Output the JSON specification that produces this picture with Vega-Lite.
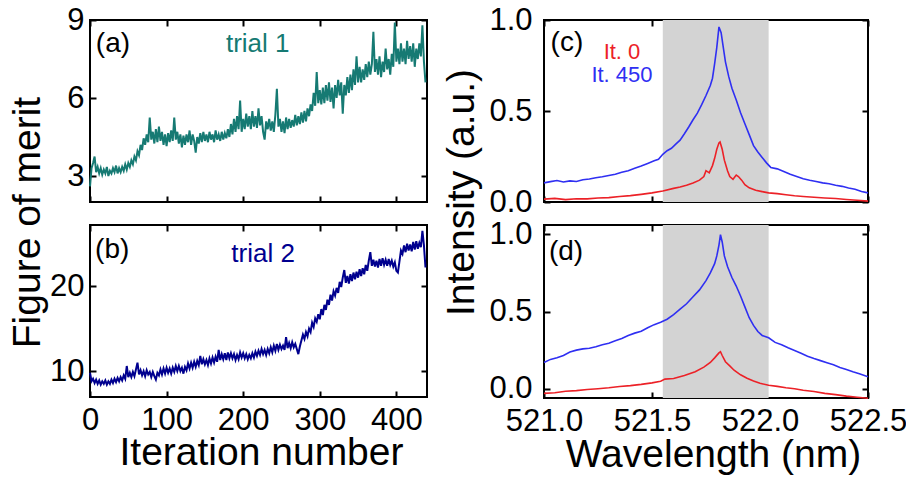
{
  "$schema": "https://vega.github.io/schema/vega-lite/v6.json",
  "padding": {"left": 7, "top": 3, "right": 0, "bottom": 0},
  "background": "white",
  "bounds": "flush",
  "columns": 2,
  "spacing": {"row": 23, "column": 117},
  "datasets": {
    "trial1": [
      {"it":0,"fom":2.6},{"it":2,"fom":3.3},{"it":4,"fom":3.5},{"it":6,"fom":3.75},{"it":8,"fom":3.15},{"it":10,"fom":3.35},{"it":12,"fom":3.1},{"it":14,"fom":3.3},{"it":16,"fom":3.05},{"it":18,"fom":3.25},
      {"it":20,"fom":3.1},{"it":22,"fom":3.35},{"it":24,"fom":3.0},{"it":26,"fom":3.2},{"it":28,"fom":3.1},{"it":30,"fom":3.3},{"it":32,"fom":3.15},{"it":34,"fom":3.4},{"it":36,"fom":3.1},{"it":38,"fom":3.3},
      {"it":40,"fom":3.15},{"it":42,"fom":3.35},{"it":44,"fom":3.2},{"it":46,"fom":3.45},{"it":48,"fom":3.25},{"it":50,"fom":3.5},{"it":52,"fom":3.35},{"it":54,"fom":3.6},{"it":56,"fom":3.45},{"it":58,"fom":3.75},
      {"it":60,"fom":3.6},{"it":62,"fom":3.95},{"it":64,"fom":3.8},{"it":66,"fom":4.2},{"it":68,"fom":4.0},{"it":70,"fom":4.45},{"it":72,"fom":4.2},{"it":74,"fom":4.6},{"it":76,"fom":4.3},{"it":78,"fom":5.25},
      {"it":80,"fom":4.4},{"it":82,"fom":4.7},{"it":84,"fom":4.25},{"it":86,"fom":4.8},{"it":88,"fom":4.3},{"it":90,"fom":4.9},{"it":92,"fom":4.35},{"it":94,"fom":4.7},{"it":96,"fom":4.2},{"it":98,"fom":4.6},
      {"it":100,"fom":4.15},{"it":102,"fom":4.65},{"it":104,"fom":4.3},{"it":106,"fom":4.75},{"it":108,"fom":4.35},{"it":110,"fom":5.25},{"it":112,"fom":4.4},{"it":114,"fom":4.7},{"it":116,"fom":4.25},{"it":118,"fom":4.6},
      {"it":120,"fom":4.1},{"it":122,"fom":4.55},{"it":124,"fom":4.2},{"it":126,"fom":4.6},{"it":128,"fom":4.3},{"it":130,"fom":4.75},{"it":132,"fom":4.2},{"it":134,"fom":4.6},{"it":136,"fom":4.35},{"it":138,"fom":3.9},
      {"it":140,"fom":4.5},{"it":142,"fom":4.25},{"it":144,"fom":4.65},{"it":146,"fom":4.3},{"it":148,"fom":4.7},{"it":150,"fom":4.35},{"it":152,"fom":4.6},{"it":154,"fom":4.3},{"it":156,"fom":4.7},{"it":158,"fom":4.4},
      {"it":160,"fom":4.6},{"it":162,"fom":4.3},{"it":164,"fom":4.75},{"it":166,"fom":4.4},{"it":168,"fom":4.6},{"it":170,"fom":4.35},{"it":172,"fom":4.7},{"it":174,"fom":4.4},{"it":176,"fom":4.65},{"it":178,"fom":4.45},
      {"it":180,"fom":4.8},{"it":182,"fom":4.5},{"it":184,"fom":5.0},{"it":186,"fom":4.6},{"it":188,"fom":5.2},{"it":190,"fom":4.7},{"it":192,"fom":5.3},{"it":194,"fom":4.8},{"it":196,"fom":5.9},{"it":198,"fom":4.7},
      {"it":200,"fom":5.2},{"it":202,"fom":4.8},{"it":204,"fom":5.4},{"it":206,"fom":4.9},{"it":208,"fom":5.3},{"it":210,"fom":4.8},{"it":212,"fom":5.5},{"it":214,"fom":4.9},{"it":216,"fom":5.3},{"it":218,"fom":4.85},
      {"it":220,"fom":5.6},{"it":222,"fom":4.95},{"it":224,"fom":5.3},{"it":226,"fom":4.7},{"it":228,"fom":4.4},{"it":230,"fom":5.1},{"it":232,"fom":4.8},{"it":234,"fom":5.2},{"it":236,"fom":4.75},{"it":238,"fom":5.1},
      {"it":240,"fom":4.7},{"it":242,"fom":5.35},{"it":244,"fom":6.35},{"it":246,"fom":4.9},{"it":248,"fom":5.2},{"it":250,"fom":4.7},{"it":252,"fom":5.1},{"it":254,"fom":4.65},{"it":256,"fom":5.25},{"it":258,"fom":4.8},
      {"it":260,"fom":5.2},{"it":262,"fom":4.85},{"it":264,"fom":5.15},{"it":266,"fom":4.9},{"it":268,"fom":5.35},{"it":270,"fom":4.95},{"it":272,"fom":5.3},{"it":274,"fom":5.0},{"it":276,"fom":5.45},{"it":278,"fom":5.05},
      {"it":280,"fom":5.5},{"it":282,"fom":5.1},{"it":284,"fom":5.6},{"it":286,"fom":5.3},{"it":288,"fom":5.75},{"it":290,"fom":5.5},{"it":292,"fom":6.2},{"it":294,"fom":5.7},{"it":296,"fom":7.0},{"it":298,"fom":5.8},
      {"it":300,"fom":6.3},{"it":302,"fom":5.75},{"it":304,"fom":6.4},{"it":306,"fom":5.8},{"it":308,"fom":6.5},{"it":310,"fom":5.9},{"it":312,"fom":6.6},{"it":314,"fom":5.85},{"it":316,"fom":6.4},{"it":318,"fom":5.6},
      {"it":320,"fom":6.5},{"it":322,"fom":6.0},{"it":324,"fom":6.7},{"it":326,"fom":6.1},{"it":328,"fom":6.6},{"it":330,"fom":5.4},{"it":332,"fom":6.5},{"it":334,"fom":6.1},{"it":336,"fom":6.8},{"it":338,"fom":6.2},
      {"it":340,"fom":6.9},{"it":342,"fom":6.3},{"it":344,"fom":7.1},{"it":346,"fom":6.5},{"it":348,"fom":7.6},{"it":350,"fom":6.6},{"it":352,"fom":7.2},{"it":354,"fom":6.6},{"it":356,"fom":7.1},{"it":358,"fom":6.7},
      {"it":360,"fom":7.3},{"it":362,"fom":6.8},{"it":364,"fom":7.4},{"it":366,"fom":6.9},{"it":368,"fom":7.3},{"it":370,"fom":8.55},{"it":372,"fom":7.0},{"it":374,"fom":7.5},{"it":376,"fom":6.9},{"it":378,"fom":7.6},
      {"it":380,"fom":6.8},{"it":382,"fom":7.4},{"it":384,"fom":7.0},{"it":386,"fom":7.9},{"it":388,"fom":7.1},{"it":390,"fom":7.5},{"it":392,"fom":6.9},{"it":394,"fom":7.7},{"it":396,"fom":7.2},{"it":398,"fom":8.9},
      {"it":400,"fom":7.4},{"it":402,"fom":7.9},{"it":404,"fom":7.3},{"it":406,"fom":8.1},{"it":408,"fom":7.4},{"it":410,"fom":7.9},{"it":412,"fom":7.3},{"it":414,"fom":8.2},{"it":416,"fom":7.5},{"it":418,"fom":8.0},
      {"it":420,"fom":7.4},{"it":422,"fom":8.1},{"it":424,"fom":7.2},{"it":426,"fom":7.9},{"it":428,"fom":7.5},{"it":430,"fom":8.1},{"it":432,"fom":7.6},{"it":434,"fom":8.8},{"it":436,"fom":7.4},{"it":438,"fom":6.6}
    ],
    "trial2": [
      {"it":0,"fom":9.8},{"it":2,"fom":8.8},{"it":4,"fom":9.1},{"it":6,"fom":8.6},{"it":8,"fom":9.0},{"it":10,"fom":8.5},{"it":12,"fom":8.9},{"it":14,"fom":8.4},{"it":16,"fom":8.8},{"it":18,"fom":8.5},
      {"it":20,"fom":8.9},{"it":22,"fom":8.4},{"it":24,"fom":8.8},{"it":26,"fom":8.5},{"it":28,"fom":9.0},{"it":30,"fom":8.6},{"it":32,"fom":9.1},{"it":34,"fom":8.7},{"it":36,"fom":9.2},{"it":38,"fom":8.8},
      {"it":40,"fom":9.3},{"it":42,"fom":8.9},{"it":44,"fom":9.5},{"it":46,"fom":9.1},{"it":48,"fom":10.6},{"it":50,"fom":9.3},{"it":52,"fom":9.8},{"it":54,"fom":9.3},{"it":56,"fom":9.9},{"it":58,"fom":9.4},
      {"it":60,"fom":10.2},{"it":62,"fom":11.0},{"it":64,"fom":9.6},{"it":66,"fom":10.1},{"it":68,"fom":9.5},{"it":70,"fom":10.0},{"it":72,"fom":9.4},{"it":74,"fom":10.1},{"it":76,"fom":9.6},{"it":78,"fom":9.9},
      {"it":80,"fom":9.3},{"it":82,"fom":9.9},{"it":84,"fom":9.4},{"it":86,"fom":9.0},{"it":88,"fom":9.8},{"it":90,"fom":9.5},{"it":92,"fom":10.2},{"it":94,"fom":9.6},{"it":96,"fom":10.3},{"it":98,"fom":9.7},
      {"it":100,"fom":10.4},{"it":102,"fom":9.8},{"it":104,"fom":10.3},{"it":106,"fom":9.7},{"it":108,"fom":10.4},{"it":110,"fom":9.9},{"it":112,"fom":10.6},{"it":114,"fom":10.0},{"it":116,"fom":10.6},{"it":118,"fom":10.0},
      {"it":120,"fom":10.4},{"it":122,"fom":9.7},{"it":124,"fom":10.5},{"it":126,"fom":10.1},{"it":128,"fom":10.9},{"it":130,"fom":10.3},{"it":132,"fom":11.0},{"it":134,"fom":10.4},{"it":136,"fom":11.1},{"it":138,"fom":10.5},
      {"it":140,"fom":11.2},{"it":142,"fom":10.7},{"it":144,"fom":11.8},{"it":146,"fom":10.8},{"it":148,"fom":11.4},{"it":150,"fom":10.8},{"it":152,"fom":11.3},{"it":154,"fom":10.7},{"it":156,"fom":11.5},{"it":158,"fom":10.9},
      {"it":160,"fom":11.6},{"it":162,"fom":11.0},{"it":164,"fom":11.7},{"it":166,"fom":11.1},{"it":168,"fom":12.5},{"it":170,"fom":11.3},{"it":172,"fom":12.0},{"it":174,"fom":11.4},{"it":176,"fom":12.1},{"it":178,"fom":11.3},
      {"it":180,"fom":12.2},{"it":182,"fom":11.5},{"it":184,"fom":12.1},{"it":186,"fom":11.5},{"it":188,"fom":12.0},{"it":190,"fom":11.3},{"it":192,"fom":11.9},{"it":194,"fom":11.4},{"it":196,"fom":12.2},{"it":198,"fom":11.6},
      {"it":200,"fom":12.1},{"it":202,"fom":11.5},{"it":204,"fom":12.0},{"it":206,"fom":11.4},{"it":208,"fom":11.9},{"it":210,"fom":11.5},{"it":212,"fom":12.1},{"it":214,"fom":11.6},{"it":216,"fom":12.3},{"it":218,"fom":11.8},
      {"it":220,"fom":12.4},{"it":222,"fom":11.9},{"it":224,"fom":12.6},{"it":226,"fom":12.0},{"it":228,"fom":12.5},{"it":230,"fom":11.9},{"it":232,"fom":12.6},{"it":234,"fom":12.1},{"it":236,"fom":12.8},{"it":238,"fom":12.2},
      {"it":240,"fom":13.0},{"it":242,"fom":12.4},{"it":244,"fom":13.2},{"it":246,"fom":12.5},{"it":248,"fom":13.1},{"it":250,"fom":12.6},{"it":252,"fom":13.0},{"it":254,"fom":12.5},{"it":256,"fom":14.0},{"it":258,"fom":12.7},
      {"it":260,"fom":13.3},{"it":262,"fom":12.7},{"it":264,"fom":13.4},{"it":266,"fom":12.8},{"it":268,"fom":13.2},{"it":270,"fom":12.6},{"it":272,"fom":12.0},{"it":274,"fom":12.9},{"it":276,"fom":13.6},{"it":278,"fom":14.3},
      {"it":280,"fom":13.8},{"it":282,"fom":14.6},{"it":284,"fom":14.1},{"it":286,"fom":15.0},{"it":288,"fom":14.6},{"it":290,"fom":15.7},{"it":292,"fom":15.2},{"it":294,"fom":16.2},{"it":296,"fom":15.8},{"it":298,"fom":16.7},
      {"it":300,"fom":16.1},{"it":302,"fom":17.3},{"it":304,"fom":16.6},{"it":306,"fom":17.8},{"it":308,"fom":17.2},{"it":310,"fom":18.4},{"it":312,"fom":17.8},{"it":314,"fom":19.0},{"it":316,"fom":18.3},{"it":318,"fom":19.4},
      {"it":320,"fom":18.9},{"it":322,"fom":19.8},{"it":324,"fom":19.2},{"it":326,"fom":20.5},{"it":328,"fom":19.9},{"it":330,"fom":21.0},{"it":332,"fom":21.9},{"it":334,"fom":20.4},{"it":336,"fom":21.2},{"it":338,"fom":20.3},
      {"it":340,"fom":21.4},{"it":342,"fom":20.6},{"it":344,"fom":21.6},{"it":346,"fom":20.8},{"it":348,"fom":21.7},{"it":350,"fom":21.0},{"it":352,"fom":22.0},{"it":354,"fom":21.2},{"it":356,"fom":22.1},{"it":358,"fom":21.4},
      {"it":360,"fom":22.5},{"it":362,"fom":21.8},{"it":364,"fom":23.0},{"it":366,"fom":24.0},{"it":368,"fom":22.4},{"it":370,"fom":23.1},{"it":372,"fom":22.3},{"it":374,"fom":23.0},{"it":376,"fom":22.2},{"it":378,"fom":23.2},
      {"it":380,"fom":22.4},{"it":382,"fom":23.3},{"it":384,"fom":22.5},{"it":386,"fom":23.1},{"it":388,"fom":22.4},{"it":390,"fom":23.2},{"it":392,"fom":22.5},{"it":394,"fom":23.0},{"it":396,"fom":22.3},{"it":398,"fom":22.8},
      {"it":400,"fom":21.8},{"it":402,"fom":21.6},{"it":404,"fom":22.9},{"it":406,"fom":24.2},{"it":408,"fom":23.8},{"it":410,"fom":24.8},{"it":412,"fom":24.0},{"it":414,"fom":25.0},{"it":416,"fom":24.2},{"it":418,"fom":24.9},
      {"it":420,"fom":24.1},{"it":422,"fom":25.2},{"it":424,"fom":24.3},{"it":426,"fom":25.3},{"it":428,"fom":24.4},{"it":430,"fom":25.1},{"it":432,"fom":24.6},{"it":434,"fom":26.5},{"it":436,"fom":24.8},{"it":438,"fom":22.2}
    ],
    "specC": [
      {"wl":521.00,"intensity":0.105,"series":"It. 450"},{"wl":521.03,"intensity":0.112,"series":"It. 450"},{"wl":521.06,"intensity":0.118,"series":"It. 450"},{"wl":521.09,"intensity":0.110,"series":"It. 450"},{"wl":521.12,"intensity":0.116,"series":"It. 450"},
      {"wl":521.15,"intensity":0.113,"series":"It. 450"},{"wl":521.18,"intensity":0.122,"series":"It. 450"},{"wl":521.21,"intensity":0.126,"series":"It. 450"},{"wl":521.24,"intensity":0.133,"series":"It. 450"},{"wl":521.27,"intensity":0.139,"series":"It. 450"},
      {"wl":521.30,"intensity":0.146,"series":"It. 450"},{"wl":521.33,"intensity":0.152,"series":"It. 450"},{"wl":521.36,"intensity":0.163,"series":"It. 450"},{"wl":521.39,"intensity":0.172,"series":"It. 450"},{"wl":521.42,"intensity":0.185,"series":"It. 450"},
      {"wl":521.45,"intensity":0.198,"series":"It. 450"},{"wl":521.48,"intensity":0.212,"series":"It. 450"},{"wl":521.51,"intensity":0.226,"series":"It. 450"},{"wl":521.53,"intensity":0.235,"series":"It. 450"},{"wl":521.55,"intensity":0.262,"series":"It. 450"},
      {"wl":521.57,"intensity":0.282,"series":"It. 450"},{"wl":521.59,"intensity":0.295,"series":"It. 450"},{"wl":521.61,"intensity":0.318,"series":"It. 450"},{"wl":521.63,"intensity":0.34,"series":"It. 450"},{"wl":521.65,"intensity":0.375,"series":"It. 450"},
      {"wl":521.67,"intensity":0.412,"series":"It. 450"},{"wl":521.69,"intensity":0.452,"series":"It. 450"},{"wl":521.71,"intensity":0.488,"series":"It. 450"},{"wl":521.73,"intensity":0.535,"series":"It. 450"},{"wl":521.75,"intensity":0.585,"series":"It. 450"},
      {"wl":521.77,"intensity":0.64,"series":"It. 450"},{"wl":521.78,"intensity":0.68,"series":"It. 450"},{"wl":521.79,"intensity":0.76,"series":"It. 450"},{"wl":521.80,"intensity":0.85,"series":"It. 450"},{"wl":521.81,"intensity":0.962,"series":"It. 450"},
      {"wl":521.82,"intensity":0.93,"series":"It. 450"},{"wl":521.83,"intensity":0.85,"series":"It. 450"},{"wl":521.84,"intensity":0.77,"series":"It. 450"},{"wl":521.855,"intensity":0.69,"series":"It. 450"},{"wl":521.87,"intensity":0.625,"series":"It. 450"},
      {"wl":521.89,"intensity":0.56,"series":"It. 450"},{"wl":521.91,"intensity":0.49,"series":"It. 450"},{"wl":521.93,"intensity":0.43,"series":"It. 450"},{"wl":521.95,"intensity":0.37,"series":"It. 450"},{"wl":521.97,"intensity":0.31,"series":"It. 450"},
      {"wl":521.99,"intensity":0.275,"series":"It. 450"},{"wl":522.01,"intensity":0.245,"series":"It. 450"},{"wl":522.03,"intensity":0.215,"series":"It. 450"},{"wl":522.05,"intensity":0.19,"series":"It. 450"},{"wl":522.08,"intensity":0.182,"series":"It. 450"},
      {"wl":522.11,"intensity":0.168,"series":"It. 450"},{"wl":522.14,"intensity":0.152,"series":"It. 450"},{"wl":522.17,"intensity":0.14,"series":"It. 450"},{"wl":522.20,"intensity":0.128,"series":"It. 450"},{"wl":522.23,"intensity":0.12,"series":"It. 450"},
      {"wl":522.26,"intensity":0.113,"series":"It. 450"},{"wl":522.29,"intensity":0.105,"series":"It. 450"},{"wl":522.32,"intensity":0.1,"series":"It. 450"},{"wl":522.35,"intensity":0.092,"series":"It. 450"},{"wl":522.38,"intensity":0.086,"series":"It. 450"},
      {"wl":522.41,"intensity":0.077,"series":"It. 450"},{"wl":522.44,"intensity":0.07,"series":"It. 450"},{"wl":522.47,"intensity":0.058,"series":"It. 450"},{"wl":522.50,"intensity":0.05,"series":"It. 450"},
      {"wl":521.00,"intensity":0.016,"series":"It. 0"},{"wl":521.05,"intensity":0.02,"series":"It. 0"},{"wl":521.10,"intensity":0.013,"series":"It. 0"},{"wl":521.15,"intensity":0.018,"series":"It. 0"},{"wl":521.20,"intensity":0.017,"series":"It. 0"},
      {"wl":521.25,"intensity":0.022,"series":"It. 0"},{"wl":521.30,"intensity":0.024,"series":"It. 0"},{"wl":521.35,"intensity":0.03,"series":"It. 0"},{"wl":521.40,"intensity":0.035,"series":"It. 0"},{"wl":521.45,"intensity":0.042,"series":"It. 0"},
      {"wl":521.50,"intensity":0.05,"series":"It. 0"},{"wl":521.55,"intensity":0.06,"series":"It. 0"},{"wl":521.60,"intensity":0.075,"series":"It. 0"},{"wl":521.63,"intensity":0.082,"series":"It. 0"},{"wl":521.66,"intensity":0.092,"series":"It. 0"},
      {"wl":521.69,"intensity":0.105,"series":"It. 0"},{"wl":521.72,"intensity":0.12,"series":"It. 0"},{"wl":521.74,"intensity":0.14,"series":"It. 0"},{"wl":521.75,"intensity":0.172,"series":"It. 0"},{"wl":521.765,"intensity":0.16,"series":"It. 0"},
      {"wl":521.78,"intensity":0.2,"series":"It. 0"},{"wl":521.79,"intensity":0.24,"series":"It. 0"},{"wl":521.80,"intensity":0.29,"series":"It. 0"},{"wl":521.81,"intensity":0.325,"series":"It. 0"},{"wl":521.815,"intensity":0.33,"series":"It. 0"},
      {"wl":521.825,"intensity":0.29,"series":"It. 0"},{"wl":521.835,"intensity":0.23,"series":"It. 0"},{"wl":521.85,"intensity":0.17,"series":"It. 0"},{"wl":521.86,"intensity":0.14,"series":"It. 0"},{"wl":521.875,"intensity":0.125,"series":"It. 0"},
      {"wl":521.89,"intensity":0.148,"series":"It. 0"},{"wl":521.90,"intensity":0.14,"series":"It. 0"},{"wl":521.915,"intensity":0.12,"series":"It. 0"},{"wl":521.93,"intensity":0.095,"series":"It. 0"},{"wl":521.95,"intensity":0.078,"series":"It. 0"},
      {"wl":521.98,"intensity":0.064,"series":"It. 0"},{"wl":522.01,"intensity":0.057,"series":"It. 0"},{"wl":522.04,"intensity":0.05,"series":"It. 0"},{"wl":522.08,"intensity":0.046,"series":"It. 0"},{"wl":522.12,"intensity":0.04,"series":"It. 0"},
      {"wl":522.16,"intensity":0.034,"series":"It. 0"},{"wl":522.20,"intensity":0.03,"series":"It. 0"},{"wl":522.25,"intensity":0.026,"series":"It. 0"},{"wl":522.30,"intensity":0.022,"series":"It. 0"},{"wl":522.35,"intensity":0.019,"series":"It. 0"},
      {"wl":522.40,"intensity":0.014,"series":"It. 0"},{"wl":522.45,"intensity":0.01,"series":"It. 0"},{"wl":522.50,"intensity":0.005,"series":"It. 0"}
    ],
    "specD": [
      {"wl":521.00,"intensity":0.17,"series":"It. 450"},{"wl":521.03,"intensity":0.19,"series":"It. 450"},{"wl":521.06,"intensity":0.2,"series":"It. 450"},{"wl":521.09,"intensity":0.215,"series":"It. 450"},{"wl":521.12,"intensity":0.238,"series":"It. 450"},
      {"wl":521.15,"intensity":0.25,"series":"It. 450"},{"wl":521.18,"intensity":0.258,"series":"It. 450"},{"wl":521.21,"intensity":0.262,"series":"It. 450"},{"wl":521.24,"intensity":0.272,"series":"It. 450"},{"wl":521.27,"intensity":0.285,"series":"It. 450"},
      {"wl":521.30,"intensity":0.295,"series":"It. 450"},{"wl":521.33,"intensity":0.31,"series":"It. 450"},{"wl":521.36,"intensity":0.325,"series":"It. 450"},{"wl":521.39,"intensity":0.345,"series":"It. 450"},{"wl":521.42,"intensity":0.36,"series":"It. 450"},
      {"wl":521.45,"intensity":0.372,"series":"It. 450"},{"wl":521.48,"intensity":0.395,"series":"It. 450"},{"wl":521.51,"intensity":0.415,"series":"It. 450"},{"wl":521.54,"intensity":0.43,"series":"It. 450"},{"wl":521.57,"intensity":0.45,"series":"It. 450"},
      {"wl":521.60,"intensity":0.48,"series":"It. 450"},{"wl":521.63,"intensity":0.515,"series":"It. 450"},{"wl":521.66,"intensity":0.55,"series":"It. 450"},{"wl":521.69,"intensity":0.595,"series":"It. 450"},{"wl":521.72,"intensity":0.64,"series":"It. 450"},
      {"wl":521.75,"intensity":0.7,"series":"It. 450"},{"wl":521.77,"intensity":0.75,"series":"It. 450"},{"wl":521.79,"intensity":0.81,"series":"It. 450"},{"wl":521.80,"intensity":0.86,"series":"It. 450"},{"wl":521.81,"intensity":0.93,"series":"It. 450"},
      {"wl":521.817,"intensity":0.997,"series":"It. 450"},{"wl":521.825,"intensity":0.95,"series":"It. 450"},{"wl":521.835,"intensity":0.86,"series":"It. 450"},{"wl":521.85,"intensity":0.79,"series":"It. 450"},{"wl":521.87,"intensity":0.72,"series":"It. 450"},
      {"wl":521.89,"intensity":0.665,"series":"It. 450"},{"wl":521.91,"intensity":0.6,"series":"It. 450"},{"wl":521.93,"intensity":0.53,"series":"It. 450"},{"wl":521.95,"intensity":0.46,"series":"It. 450"},{"wl":521.97,"intensity":0.41,"series":"It. 450"},
      {"wl":521.99,"intensity":0.37,"series":"It. 450"},{"wl":522.01,"intensity":0.345,"series":"It. 450"},{"wl":522.04,"intensity":0.33,"series":"It. 450"},{"wl":522.07,"intensity":0.3,"series":"It. 450"},{"wl":522.10,"intensity":0.285,"series":"It. 450"},
      {"wl":522.13,"intensity":0.265,"series":"It. 450"},{"wl":522.16,"intensity":0.248,"series":"It. 450"},{"wl":522.19,"intensity":0.23,"series":"It. 450"},{"wl":522.22,"intensity":0.21,"series":"It. 450"},{"wl":522.25,"intensity":0.195,"series":"It. 450"},
      {"wl":522.28,"intensity":0.182,"series":"It. 450"},{"wl":522.31,"intensity":0.168,"series":"It. 450"},{"wl":522.34,"intensity":0.155,"series":"It. 450"},{"wl":522.37,"intensity":0.138,"series":"It. 450"},{"wl":522.40,"intensity":0.125,"series":"It. 450"},
      {"wl":522.43,"intensity":0.11,"series":"It. 450"},{"wl":522.46,"intensity":0.097,"series":"It. 450"},{"wl":522.50,"intensity":0.078,"series":"It. 450"},
      {"wl":521.00,"intensity":-0.03,"series":"It. 0"},{"wl":521.05,"intensity":-0.026,"series":"It. 0"},{"wl":521.10,"intensity":-0.016,"series":"It. 0"},{"wl":521.15,"intensity":-0.012,"series":"It. 0"},{"wl":521.20,"intensity":-0.005,"series":"It. 0"},
      {"wl":521.25,"intensity":0.0,"series":"It. 0"},{"wl":521.30,"intensity":0.006,"series":"It. 0"},{"wl":521.35,"intensity":0.014,"series":"It. 0"},{"wl":521.40,"intensity":0.02,"series":"It. 0"},{"wl":521.45,"intensity":0.028,"series":"It. 0"},
      {"wl":521.50,"intensity":0.038,"series":"It. 0"},{"wl":521.54,"intensity":0.048,"series":"It. 0"},{"wl":521.56,"intensity":0.062,"series":"It. 0"},{"wl":521.60,"intensity":0.066,"series":"It. 0"},{"wl":521.65,"intensity":0.085,"series":"It. 0"},
      {"wl":521.70,"intensity":0.11,"series":"It. 0"},{"wl":521.74,"intensity":0.14,"series":"It. 0"},{"wl":521.77,"intensity":0.17,"series":"It. 0"},{"wl":521.79,"intensity":0.2,"series":"It. 0"},{"wl":521.81,"intensity":0.232,"series":"It. 0"},
      {"wl":521.817,"intensity":0.24,"series":"It. 0"},{"wl":521.825,"intensity":0.215,"series":"It. 0"},{"wl":521.84,"intensity":0.175,"series":"It. 0"},{"wl":521.86,"intensity":0.148,"series":"It. 0"},{"wl":521.88,"intensity":0.12,"series":"It. 0"},
      {"wl":521.91,"intensity":0.09,"series":"It. 0"},{"wl":521.94,"intensity":0.068,"series":"It. 0"},{"wl":521.97,"intensity":0.05,"series":"It. 0"},{"wl":522.00,"intensity":0.035,"series":"It. 0"},{"wl":522.04,"intensity":0.022,"series":"It. 0"},
      {"wl":522.08,"intensity":0.015,"series":"It. 0"},{"wl":522.12,"intensity":0.006,"series":"It. 0"},{"wl":522.16,"intensity":0.0,"series":"It. 0"},{"wl":522.20,"intensity":-0.01,"series":"It. 0"},{"wl":522.25,"intensity":-0.018,"series":"It. 0"},
      {"wl":522.30,"intensity":-0.03,"series":"It. 0"},{"wl":522.35,"intensity":-0.038,"series":"It. 0"},{"wl":522.40,"intensity":-0.048,"series":"It. 0"},{"wl":522.45,"intensity":-0.055,"series":"It. 0"},{"wl":522.50,"intensity":-0.062,"series":"It. 0"}
    ]
  },
  "concat": [
    {
      "width": 337, "height": 182,
      "data": {"name": "trial1"},
      "layer": [
        {
          "layer": [
            {
              "mark": {"type": "line", "color": "#167a73", "strokeWidth": 2},
              "encoding": {
                "x": {"field": "it", "type": "quantitative", "scale": {"domain": [0, 440], "nice": false}, "axis": {"orient": "bottom", "values": [0, 100, 200, 300, 400], "labels": false, "title": null}},
                "y": {"field": "fom", "type": "quantitative", "scale": {"domain": [2, 9], "nice": false, "zero": false}, "axis": {"orient": "left", "values": [3, 6, 9], "labelPadding": 12, "title": "Figure of merit", "titleX": -51, "titleY": 202, "titleAngle": 270, "titleAlign": "center", "titleBaseline": "alphabetic"}}
              }
            },
            {
              "data": {"values": [{"label": "(a)"}]},
              "mark": {"type": "text", "fontSize": 28, "color": "black", "align": "center", "baseline": "middle"},
              "encoding": {"x": {"datum": 30, "type": "quantitative"}, "y": {"datum": 8.08, "type": "quantitative"}, "text": {"field": "label"}}
            },
            {
              "data": {"values": [{"label": "trial 1"}]},
              "mark": {"type": "text", "fontSize": 26, "color": "#167a73", "align": "center", "baseline": "middle"},
              "encoding": {"x": {"datum": 219, "type": "quantitative"}, "y": {"datum": 8.08, "type": "quantitative"}, "text": {"field": "label"}}
            }
          ]
        },
        {
          "mark": {"type": "line", "strokeOpacity": 0},
          "encoding": {
            "x": {"field": "it", "type": "quantitative", "axis": {"orient": "top", "values": [0, 100, 200, 300, 400], "labels": false, "title": null}},
            "y": {"field": "fom", "type": "quantitative", "axis": {"orient": "right", "values": [3, 6, 9], "labels": false, "title": null}}
          }
        }
      ],
      "resolve": {"axis": {"x": "independent", "y": "independent"}}
    },
    {
      "width": 324, "height": 182,
      "data": {"name": "specC"},
      "layer": [
        {
          "layer": [
            {
              "data": {"values": [{"band": "window"}]},
              "mark": {"type": "rect", "color": "#d3d3d3"},
              "encoding": {"x": {"datum": 521.55, "type": "quantitative"}, "x2": {"datum": 522.04}}
            },
            {
              "mark": {"type": "line", "strokeWidth": 1.6},
              "encoding": {
                "x": {"field": "wl", "type": "quantitative", "scale": {"domain": [521.0, 522.5], "nice": false, "zero": false}, "axis": {"orient": "bottom", "values": [521.0, 521.5, 522.0, 522.5], "labels": false, "title": null}},
                "y": {"field": "intensity", "type": "quantitative", "scale": {"domain": [0, 1.0], "nice": false, "zero": false}, "axis": {"orient": "left", "values": [0, 0.5, 1.0], "format": ".1f", "labelPadding": 18, "title": "Intensity (a.u.)", "titleX": -71, "titleY": 172, "titleAngle": 270, "titleAlign": "center", "titleBaseline": "alphabetic"}},
                "color": {"field": "series", "type": "nominal", "scale": {"domain": ["It. 0", "It. 450"], "range": ["#ec2127", "#2f2ff2"]}, "legend": null}
              }
            },
            {
              "data": {"values": [{"label": "(c)"}]},
              "mark": {"type": "text", "fontSize": 28, "color": "black", "align": "center", "baseline": "middle"},
              "encoding": {"x": {"datum": 521.106, "type": "quantitative"}, "y": {"datum": 0.872, "type": "quantitative"}, "text": {"field": "label"}}
            },
            {
              "data": {"values": [{"label": "It. 0"}]},
              "mark": {"type": "text", "fontSize": 22, "color": "#ec2127", "align": "center", "baseline": "middle"},
              "encoding": {"x": {"datum": 521.361, "type": "quantitative"}, "y": {"datum": 0.822, "type": "quantitative"}, "text": {"field": "label"}}
            },
            {
              "data": {"values": [{"label": "It. 450"}]},
              "mark": {"type": "text", "fontSize": 22, "color": "#2f2ff2", "align": "center", "baseline": "middle"},
              "encoding": {"x": {"datum": 521.361, "type": "quantitative"}, "y": {"datum": 0.70, "type": "quantitative"}, "text": {"field": "label"}}
            }
          ]
        },
        {
          "mark": {"type": "line", "strokeOpacity": 0},
          "encoding": {
            "x": {"field": "wl", "type": "quantitative", "axis": {"orient": "top", "values": [521.0, 521.5, 522.0, 522.5], "labels": false, "title": null}},
            "y": {"field": "intensity", "type": "quantitative", "axis": {"orient": "right", "values": [0, 0.5, 1.0], "labels": false, "title": null}}
          }
        }
      ],
      "resolve": {"axis": {"x": "independent", "y": "independent"}}
    },
    {
      "width": 337, "height": 172,
      "data": {"name": "trial2"},
      "layer": [
        {
          "layer": [
            {
              "mark": {"type": "line", "color": "#00008f", "strokeWidth": 2},
              "encoding": {
                "x": {"field": "it", "type": "quantitative", "scale": {"domain": [0, 440], "nice": false}, "axis": {"orient": "bottom", "values": [0, 100, 200, 300, 400], "labelPadding": 14, "title": "Iteration number", "titleX": 171, "titleY": 67, "titleAlign": "center", "titleBaseline": "alphabetic"}},
                "y": {"field": "fom", "type": "quantitative", "scale": {"domain": [6.95, 27.2], "nice": false, "zero": false}, "axis": {"orient": "left", "values": [10, 20], "labelPadding": 12, "title": null}}
              }
            },
            {
              "data": {"values": [{"label": "(b)"}]},
              "mark": {"type": "text", "fontSize": 28, "color": "black", "align": "center", "baseline": "middle"},
              "encoding": {"x": {"datum": 29, "type": "quantitative"}, "y": {"datum": 24.2, "type": "quantitative"}, "text": {"field": "label"}}
            },
            {
              "data": {"values": [{"label": "trial 2"}]},
              "mark": {"type": "text", "fontSize": 26, "color": "#00008f", "align": "center", "baseline": "middle"},
              "encoding": {"x": {"datum": 226, "type": "quantitative"}, "y": {"datum": 23.76, "type": "quantitative"}, "text": {"field": "label"}}
            }
          ]
        },
        {
          "mark": {"type": "line", "strokeOpacity": 0},
          "encoding": {
            "x": {"field": "it", "type": "quantitative", "axis": {"orient": "top", "values": [0, 100, 200, 300, 400], "labels": false, "title": null}},
            "y": {"field": "fom", "type": "quantitative", "axis": {"orient": "right", "values": [10, 20], "labels": false, "title": null}}
          }
        }
      ],
      "resolve": {"axis": {"x": "independent", "y": "independent"}}
    },
    {
      "width": 324, "height": 173,
      "data": {"name": "specD"},
      "layer": [
        {
          "layer": [
            {
              "data": {"values": [{"band": "window"}]},
              "mark": {"type": "rect", "color": "#d3d3d3"},
              "encoding": {"x": {"datum": 521.55, "type": "quantitative"}, "x2": {"datum": 522.04}}
            },
            {
              "mark": {"type": "line", "strokeWidth": 1.6},
              "encoding": {
                "x": {"field": "wl", "type": "quantitative", "scale": {"domain": [521.0, 522.5], "nice": false, "zero": false}, "axis": {"orient": "bottom", "values": [521.0, 521.5, 522.0, 522.5], "format": ".1f", "labelPadding": 14, "title": "Wavelength (nm)", "titleX": 169, "titleY": 68, "titleAlign": "center", "titleBaseline": "alphabetic"}},
                "y": {"field": "intensity", "type": "quantitative", "scale": {"domain": [-0.06, 1.06], "nice": false, "zero": false}, "axis": {"orient": "left", "values": [0, 0.5, 1.0], "format": ".1f", "labelPadding": 18, "title": null}},
                "color": {"field": "series", "type": "nominal", "scale": {"domain": ["It. 0", "It. 450"], "range": ["#ec2127", "#2f2ff2"]}, "legend": null}
              }
            },
            {
              "data": {"values": [{"label": "(d)"}]},
              "mark": {"type": "text", "fontSize": 28, "color": "black", "align": "center", "baseline": "middle"},
              "encoding": {"x": {"datum": 521.102, "type": "quantitative"}, "y": {"datum": 0.885, "type": "quantitative"}, "text": {"field": "label"}}
            }
          ]
        },
        {
          "mark": {"type": "line", "strokeOpacity": 0},
          "encoding": {
            "x": {"field": "wl", "type": "quantitative", "axis": {"orient": "top", "values": [521.0, 521.5, 522.0, 522.5], "labels": false, "title": null}},
            "y": {"field": "intensity", "type": "quantitative", "axis": {"orient": "right", "values": [0, 0.5, 1.0], "labels": false, "title": null}}
          }
        }
      ],
      "resolve": {"axis": {"x": "independent", "y": "independent"}}
    }
  ],
  "config": {
    "font": "Liberation Sans",
    "view": {"stroke": "black", "strokeWidth": 2},
    "axis": {
      "grid": false,
      "domain": false,
      "ticks": true,
      "tickSize": -6,
      "tickWidth": 2,
      "tickColor": "black",
      "labelFont": "Liberation Sans",
      "labelFontSize": 31,
      "labelColor": "black",
      "labelFlush": false,
      "labelOverlap": false,
      "titleFont": "Liberation Sans",
      "titleFontSize": 39,
      "titleFontWeight": "normal",
      "titleColor": "black"
    }
  }
}
